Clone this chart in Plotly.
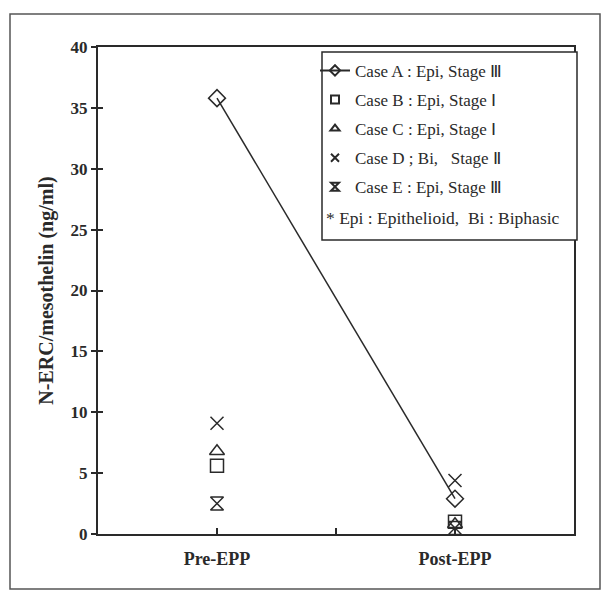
import plotly.graph_objects as go

categories = ["Pre-EPP", "Post-EPP"]
cat_pos = [1, 2]
case_names = [
    "Case A : Epi, Stage Ⅲ",
    "Case B : Epi, Stage Ⅰ",
    "Case C : Epi, Stage Ⅰ",
    "Case D ; Bi,   Stage Ⅱ",
    "Case E : Epi, Stage Ⅲ",
]
case_a = [35.8, 2.9]
case_b = [5.6, 1.0]
case_c = [6.8, 0.8]
case_d = [9.1, 4.4]
case_e = [2.5, 0.5]
series = [case_a, case_b, case_c, case_d, case_e]
symbols = ["diamond-open", "square-open", "triangle-up-open", "x-thin-open", "hourglass-open"]
modes = ["lines+markers", "markers", "markers", "markers", "markers"]
yticks = [0, 5, 10, 15, 20, 25, 30, 35, 40]
footnote = "* Epi : Epithelioid,  Bi : Biphasic"

ink = "#2a2a2a"
serif = "Liberation Serif, Times New Roman, serif"

fig = go.Figure()
for i, (name, vals, sym, mode) in enumerate(zip(case_names, series, symbols, modes)):
    fig.add_trace(go.Scatter(
        x=cat_pos, y=vals, name=name, mode=mode, showlegend=False,
        line=dict(color=ink, width=1.5),
        marker=dict(symbol=sym, size=13, color=ink, line=dict(color=ink, width=1.5)),
    ))
# legend-only entries with smaller symbols
for i, (name, sym, mode) in enumerate(zip(case_names, symbols, modes)):
    fig.add_trace(go.Scatter(
        x=[None], y=[None], name=name, mode=mode, legendgroup=f"g{i}",
        line=dict(color=ink, width=2),
        marker=dict(symbol=sym, size=8, color=ink, line=dict(color=ink, width=2)),
    ))

# invisible trace on overlay axis to get inside ticks
fig.add_trace(go.Scatter(x=cat_pos, y=[None, None], yaxis="y2", showlegend=False, hoverinfo="skip"))

fig.update_layout(
    width=604, height=592,
    margin=dict(l=98, r=30, t=47, b=58),
    paper_bgcolor="white", plot_bgcolor="white",
    font=dict(family=serif, color=ink),
    showlegend=True,
    legend=dict(
        x=(315 - 98) / 476, y=0.988, xanchor="left", yanchor="top",
        bgcolor="rgba(0,0,0,0)", borderwidth=0,
        font=dict(size=17, family=serif, color=ink),
        tracegroupgap=4, itemwidth=30,
    ),
    xaxis=dict(
        range=[0.5, 2.5], tickvals=[1, 1.5, 2], ticktext=["Pre-EPP", "", "Post-EPP"],
        ticks="inside", ticklen=6, tickwidth=1.5, tickcolor=ink,
        showline=True, linecolor=ink, linewidth=2, mirror=True,
        showgrid=False, zeroline=False, ticklabelstandoff=7,
        tickfont=dict(size=18, family=serif, color=ink, weight="bold"),
    ),
    yaxis=dict(
        range=[0, 40], tickvals=yticks,
        ticks="outside", ticklen=5, tickwidth=1.5, tickcolor=ink,
        showline=True, linecolor=ink, linewidth=2, mirror=True,
        showgrid=False, zeroline=False,
        tickfont=dict(size=17, family=serif, color=ink, weight="bold"),
        title=dict(text="N-ERC/mesothelin (ng/ml)", standoff=12,
                   font=dict(size=20, family=serif, color=ink, weight="bold")),
    ),
    yaxis2=dict(
        range=[0, 40], tickvals=yticks, overlaying="y", side="left",
        ticks="inside", ticklen=5, tickwidth=1.5, tickcolor=ink,
        showticklabels=False, showgrid=False, zeroline=False, showline=False,
    ),
)

# legend box
fig.add_shape(type="rect", xref="paper", yref="paper",
              x0=(322 - 98) / 476, x1=(577 - 98) / 476, y0=(534 - 240) / 487, y1=(534 - 52) / 487,
              line=dict(color=ink, width=1.5), fillcolor="white", layer="above")
# outer frame
fig.add_shape(type="rect", xref="paper", yref="paper",
              x0=(10 - 98) / 476, x1=(600 - 98) / 476,
              y0=(534 - 589) / 487, y1=(534 - 14) / 487,
              line=dict(color="#555555", width=1.5), fillcolor="rgba(0,0,0,0)", layer="below")

fig.add_annotation(text=footnote, xref="paper", yref="paper",
                   x=(324 - 98) / 476, y=(534 - 218) / 487, xanchor="left", yanchor="middle",
                   showarrow=False, font=dict(size=17.5, family=serif, color=ink))

fig.write_html("out.html")
